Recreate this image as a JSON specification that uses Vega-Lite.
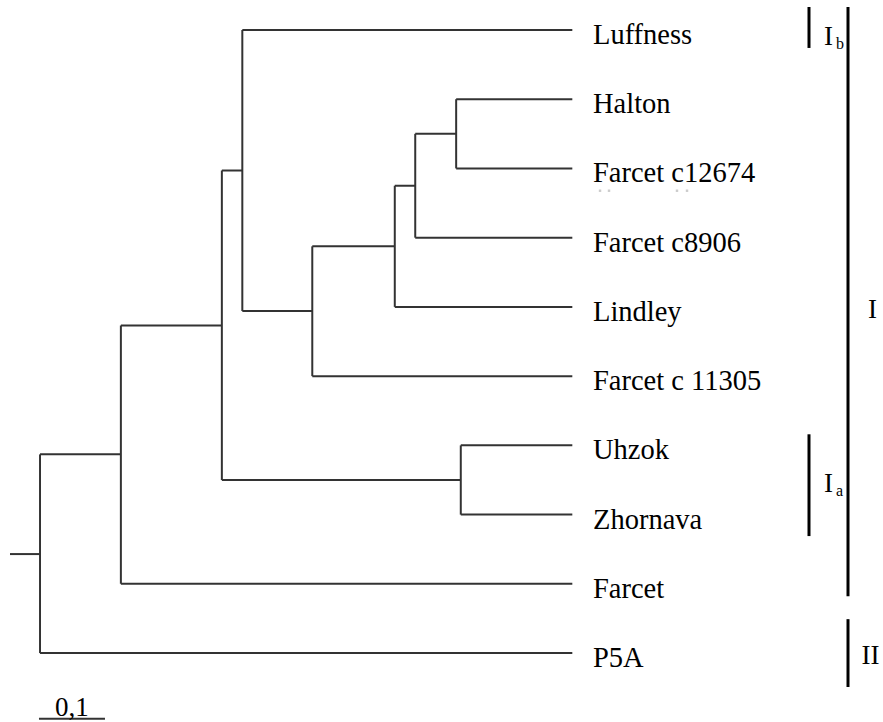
{
  "$schema": "https://vega.github.io/schema/vega-lite/v6.json",
  "width": 883,
  "height": 722,
  "autosize": {"type": "fit", "contains": "padding"},
  "padding": 0,
  "background": "white",
  "config": {"view": {"stroke": null}, "text": {"font": "Liberation Serif", "color": "black"}},
  "datasets": {
    "tree": [
      {"id": "root", "x": 0.0455, "parentX": 0, "y": 7.57, "yTop": 6.13, "yBottom": 9},
      {"id": "n1", "x": 0.168, "parentX": 0.0455, "y": 6.13, "yTop": 4.27, "yBottom": 8},
      {"id": "n2", "x": 0.321, "parentX": 0.168, "y": 4.27, "yTop": 2.03, "yBottom": 6.5},
      {"id": "n3", "x": 0.352, "parentX": 0.321, "y": 2.03, "yTop": 0, "yBottom": 4.06},
      {"id": "n4", "x": 0.458, "parentX": 0.352, "y": 4.06, "yTop": 3.125, "yBottom": 5},
      {"id": "n5", "x": 0.583, "parentX": 0.458, "y": 3.125, "yTop": 2.25, "yBottom": 4},
      {"id": "n6", "x": 0.614, "parentX": 0.583, "y": 2.25, "yTop": 1.5, "yBottom": 3},
      {"id": "n7", "x": 0.676, "parentX": 0.614, "y": 1.5, "yTop": 1, "yBottom": 2},
      {"id": "n8", "x": 0.683, "parentX": 0.321, "y": 6.5, "yTop": 6, "yBottom": 7},
      {"id": "Luffness", "x": 0.852, "parentX": 0.352, "y": 0, "label": "Luffness"},
      {"id": "Halton", "x": 0.852, "parentX": 0.676, "y": 1, "label": "Halton"},
      {"id": "Farcet c12674", "x": 0.852, "parentX": 0.676, "y": 2, "label": "Farcet c12674"},
      {"id": "Farcet c8906", "x": 0.852, "parentX": 0.614, "y": 3, "label": "Farcet c8906"},
      {"id": "Lindley", "x": 0.852, "parentX": 0.583, "y": 4, "label": "Lindley"},
      {"id": "Farcet c 11305", "x": 0.852, "parentX": 0.458, "y": 5, "label": "Farcet c 11305"},
      {"id": "Uhzok", "x": 0.852, "parentX": 0.683, "y": 6, "label": "Uhzok"},
      {"id": "Zhornava", "x": 0.852, "parentX": 0.683, "y": 7, "label": "Zhornava"},
      {"id": "Farcet", "x": 0.852, "parentX": 0.168, "y": 8, "label": "Farcet"},
      {"id": "P5A", "x": 0.852, "parentX": 0.0455, "y": 9, "label": "P5A"}
    ],
    "clades": [
      {"clade": "Ib", "x": 1.2106, "yTop": -0.332, "yBottom": 0.26},
      {"clade": "Ia", "x": 1.2106, "yTop": 5.84, "yBottom": 7.31},
      {"clade": "I", "x": 1.2697, "yTop": -0.332, "yBottom": 8.18},
      {"clade": "II", "x": 1.2697, "yTop": 8.51, "yBottom": 9.49}
    ],
    "cladeLabels": [
      {"main": "I", "sub": "b", "x": 1.2333, "y": 0.06, "subX": 1.2515, "subY": 0.2},
      {"main": "I", "sub": "a", "x": 1.2333, "y": 6.52, "subX": 1.2515, "subY": 6.66},
      {"main": "I", "sub": "", "x": 1.3, "y": 4, "subX": 1.3, "subY": 4},
      {"main": "II", "sub": "", "x": 1.29, "y": 9, "subX": 1.29, "subY": 9}
    ],
    "specks": [
      {"x": 0.894, "y": 2.322},
      {"x": 0.9076, "y": 2.322},
      {"x": 1.0106, "y": 2.322},
      {"x": 1.0258, "y": 2.322}
    ],
    "scalebar": [
      {"label": "0,1", "x": 0.0439, "x2": 0.1439, "mid": 0.0939, "y": 9.95, "labelY": 9.8}
    ]
  },
  "layer": [
    {
      "data": {"name": "tree"},
      "mark": {"type": "rule", "stroke": "#333333", "strokeWidth": 2},
      "encoding": {
        "x": {"field": "parentX", "type": "quantitative", "scale": {"domain": [-0.01515, 1.32273], "nice": false, "zero": false}, "axis": null},
        "x2": {"field": "x"},
        "y": {"field": "y", "type": "quantitative", "scale": {"domain": [-0.4327, 9.981], "nice": false, "zero": false, "reverse": true}, "axis": null}
      }
    },
    {
      "data": {"name": "tree"},
      "transform": [{"filter": "isValid(datum.yTop)"}],
      "mark": {"type": "rule", "stroke": "#333333", "strokeWidth": 2},
      "encoding": {
        "x": {"field": "x", "type": "quantitative", "scale": {"domain": [-0.01515, 1.32273], "nice": false, "zero": false}, "axis": null},
        "y": {"field": "yTop", "type": "quantitative", "scale": {"domain": [-0.4327, 9.981], "nice": false, "zero": false, "reverse": true}, "axis": null},
        "y2": {"field": "yBottom"}
      }
    },
    {
      "data": {"name": "tree"},
      "transform": [{"filter": "isValid(datum.label)"}, {"calculate": "datum.x + 0.0313", "as": "lx"}],
      "mark": {"type": "text", "align": "left", "baseline": "middle", "dy": 5, "fontSize": 28.5},
      "encoding": {
        "x": {"field": "lx", "type": "quantitative", "scale": {"domain": [-0.01515, 1.32273], "nice": false, "zero": false}, "axis": null},
        "y": {"field": "y", "type": "quantitative", "scale": {"domain": [-0.4327, 9.981], "nice": false, "zero": false, "reverse": true}, "axis": null},
        "text": {"field": "label"}
      }
    },
    {
      "data": {"name": "specks"},
      "mark": {"type": "square", "size": 6, "color": "#cccccc", "opacity": 1},
      "encoding": {
        "x": {"field": "x", "type": "quantitative", "scale": {"domain": [-0.01515, 1.32273], "nice": false, "zero": false}, "axis": null},
        "y": {"field": "y", "type": "quantitative", "scale": {"domain": [-0.4327, 9.981], "nice": false, "zero": false, "reverse": true}, "axis": null}
      }
    },
    {
      "data": {"name": "clades"},
      "mark": {"type": "rule", "stroke": "black", "strokeWidth": 3},
      "encoding": {
        "x": {"field": "x", "type": "quantitative", "scale": {"domain": [-0.01515, 1.32273], "nice": false, "zero": false}, "axis": null},
        "y": {"field": "yTop", "type": "quantitative", "scale": {"domain": [-0.4327, 9.981], "nice": false, "zero": false, "reverse": true}, "axis": null},
        "y2": {"field": "yBottom"}
      }
    },
    {
      "data": {"name": "cladeLabels"},
      "mark": {"type": "text", "align": "left", "baseline": "middle", "dy": 3, "fontSize": 27},
      "encoding": {
        "x": {"field": "x", "type": "quantitative", "scale": {"domain": [-0.01515, 1.32273], "nice": false, "zero": false}, "axis": null},
        "y": {"field": "y", "type": "quantitative", "scale": {"domain": [-0.4327, 9.981], "nice": false, "zero": false, "reverse": true}, "axis": null},
        "text": {"field": "main"}
      }
    },
    {
      "data": {"name": "cladeLabels"},
      "mark": {"type": "text", "align": "left", "baseline": "middle", "fontSize": 16},
      "encoding": {
        "x": {"field": "subX", "type": "quantitative", "scale": {"domain": [-0.01515, 1.32273], "nice": false, "zero": false}, "axis": null},
        "y": {"field": "subY", "type": "quantitative", "scale": {"domain": [-0.4327, 9.981], "nice": false, "zero": false, "reverse": true}, "axis": null},
        "text": {"field": "sub"}
      }
    },
    {
      "data": {"name": "scalebar"},
      "mark": {"type": "rule", "stroke": "#333333", "strokeWidth": 2},
      "encoding": {
        "x": {"field": "x", "type": "quantitative", "scale": {"domain": [-0.01515, 1.32273], "nice": false, "zero": false}, "axis": null},
        "x2": {"field": "x2"},
        "y": {"field": "y", "type": "quantitative", "scale": {"domain": [-0.4327, 9.981], "nice": false, "zero": false, "reverse": true}, "axis": null}
      }
    },
    {
      "data": {"name": "scalebar"},
      "mark": {"type": "text", "align": "center", "baseline": "middle", "fontSize": 27},
      "encoding": {
        "x": {"field": "mid", "type": "quantitative", "scale": {"domain": [-0.01515, 1.32273], "nice": false, "zero": false}, "axis": null},
        "y": {"field": "labelY", "type": "quantitative", "scale": {"domain": [-0.4327, 9.981], "nice": false, "zero": false, "reverse": true}, "axis": null},
        "text": {"field": "label"}
      }
    }
  ]
}
